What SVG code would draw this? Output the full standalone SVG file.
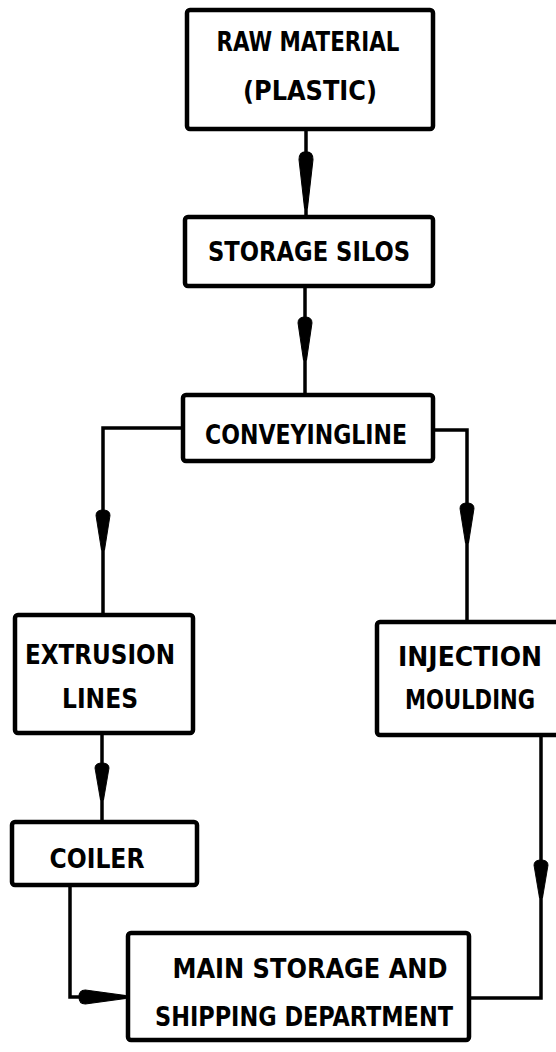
<svg xmlns="http://www.w3.org/2000/svg" xmlns:xlink="http://www.w3.org/1999/xlink" width="556" height="1052" viewBox="0 0 556 1052">
<style>
.box{fill:#fff;stroke:#000;stroke-width:4.5;stroke-linejoin:round}
.lbl{font-family:"DejaVu Sans Condensed","DejaVu Sans",sans-serif;font-weight:bold;font-size:26px;fill:#000;text-anchor:middle}
.ln{fill:none;stroke:#000;stroke-width:3.5;stroke-linejoin:miter}
.ah{fill:#000;stroke:#000;stroke-width:1}
</style>
<defs>
<path id="arr" d="M -7,6 Q -7,0 0,0 Q 7,0 7,6 L 1.5,44 L -1.5,44 Z"/>
</defs>
<rect width="556" height="1052" fill="#fff"/>
<g id="connectors">
<path class="ln" d="M306,128 V217"/>
<path class="ln" d="M305,286 V395"/>
<path class="ln" d="M183,428 H103 V615"/>
<path class="ln" d="M433,430 H467 V622"/>
<path class="ln" d="M102,733 V822"/>
<path class="ln" d="M70,885 V997 H128"/>
<path class="ln" d="M541,735 V998 H469"/>
<use class="ah" xlink:href="#arr" transform="translate(306,152) scale(1,1.27)"/>
<use class="ah" xlink:href="#arr" transform="translate(305,317) scale(1,0.98)"/>
<use class="ah" xlink:href="#arr" transform="translate(103,510) scale(1,0.91)"/>
<use class="ah" xlink:href="#arr" transform="translate(467,503) scale(1,0.91)"/>
<use class="ah" xlink:href="#arr" transform="translate(102,763) scale(1,0.84)"/>
<use class="ah" xlink:href="#arr" transform="translate(541,860) scale(1,0.86)"/>
<use class="ah" xlink:href="#arr" transform="translate(79,997) rotate(-90) scale(1,1.05)"/>
</g>
<g id="raw-material">
<rect class="box" x="187" y="10" width="246" height="119" rx="3"/>
<text class="lbl" x="308" y="51" textLength="183" lengthAdjust="spacingAndGlyphs">RAW MATERIAL</text>
<text class="lbl" x="310" y="100" textLength="134" lengthAdjust="spacingAndGlyphs">(PLASTIC)</text>
</g>
<g id="storage-silos">
<rect class="box" x="185" y="217" width="248" height="69" rx="3"/>
<text class="lbl" x="309" y="261" textLength="202" lengthAdjust="spacingAndGlyphs">STORAGE SILOS</text>
</g>
<g id="conveyingline">
<rect class="box" x="183" y="395" width="250" height="66" rx="3"/>
<text class="lbl" x="306" y="444" textLength="202" lengthAdjust="spacingAndGlyphs">CONVEYINGLINE</text>
</g>
<g id="extrusion-lines">
<rect class="box" x="15" y="615" width="178" height="118" rx="3"/>
<text class="lbl" x="100" y="664" textLength="150" lengthAdjust="spacingAndGlyphs">EXTRUSION</text>
<text class="lbl" x="100" y="708" textLength="76" lengthAdjust="spacingAndGlyphs">LINES</text>
</g>
<g id="injection-moulding">
<rect class="box" x="377" y="622" width="190" height="113" rx="3"/>
<text class="lbl" x="470" y="666" textLength="144" lengthAdjust="spacingAndGlyphs">INJECTION</text>
<text class="lbl" x="470" y="709" textLength="130" lengthAdjust="spacingAndGlyphs">MOULDING</text>
</g>
<g id="coiler">
<rect class="box" x="12" y="822" width="185" height="63" rx="3"/>
<text class="lbl" x="97" y="868" textLength="95" lengthAdjust="spacingAndGlyphs">COILER</text>
</g>
<g id="main-storage">
<rect class="box" x="128" y="933" width="341" height="107" rx="3"/>
<text class="lbl" x="310" y="978" textLength="275" lengthAdjust="spacingAndGlyphs">MAIN STORAGE AND</text>
<text class="lbl" x="304" y="1026" textLength="298" lengthAdjust="spacingAndGlyphs">SHIPPING DEPARTMENT</text>
</g>
</svg>
